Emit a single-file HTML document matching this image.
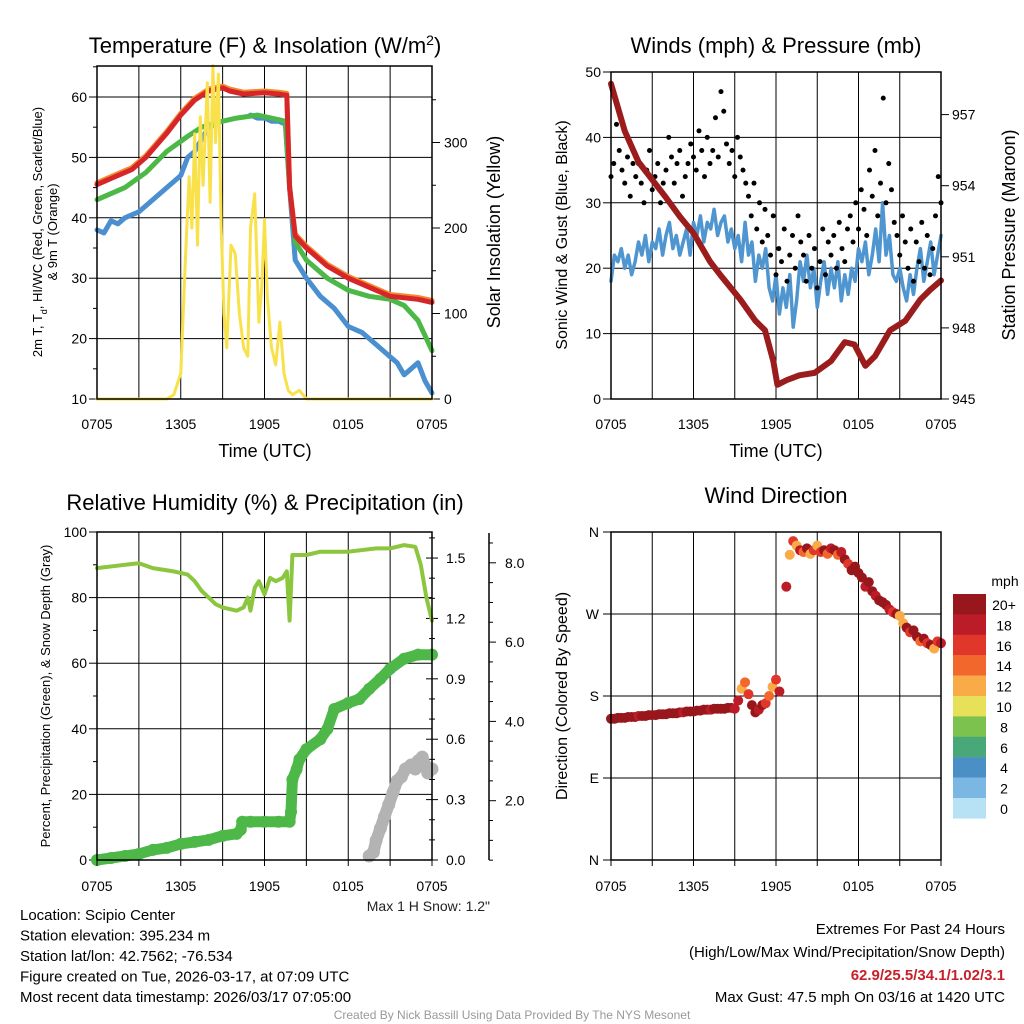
<!DOCTYPE html>
<html><head><meta charset="utf-8"><style>
html,body{margin:0;padding:0;background:#fff;}
svg{display:block;font-family:"Liberation Sans",Arial,sans-serif;}
</style></head><body>
<svg id="chart" width="1024" height="1024" viewBox="0 0 1024 1024" xmlns="http://www.w3.org/2000/svg"></svg>
<script>
// ---------- data ----------
const timeLabels = ['0705','1305','1905','0105','0705'];
// Temperature panel (hours since 0705 UTC)
const tempHours = [0,1,2.5,3.5,5,6,7,8,9,9.5,10.5,12,13,13.6,13.8,14.2,15,16.5,18,20,21,23,24];
const tempRed   = [45.5,46.5,48,50,54,57,59.5,61,61.5,61,60.5,60.7,60.5,60.3,45,37,35,32,30,28,27,26.5,26];
const greenHours = [0,2,3.5,5,6.5,7.5,9,10,11.5,13.5,13.8,14.2,15,16.5,18,19.5,21,22,23,24];
const tempGreen  = [43,45,47.5,51,53.5,55,56,56.5,57,56,45,36,33,30,28,27,26.5,25.5,23,18];
const blueHours1 = [0,0.5,1,1.5,2,2.5,3,3.5,4,5,6,6.5,7,7.5,8,8.5];
const tempBlue1  = [38,37.5,39.5,39,40,40.5,41,42,43,45,47,50,51,53,55,55.5];
const blueHours2 = [11,11.5,12,12.5,13,13.5,13.8,14.2,15,16,17,18,19,20,21,21.5,22,22.5,23,23.5,24];
const tempBlue2  = [57,56.5,56.5,56,56,55.5,45,33,30,27,25,22,21,19,17,16,14,15,16,13,11];
const solarHours = [0,5,5.5,6,6.3,6.6,6.8,7,7.2,7.4,7.6,7.9,8.1,8.3,8.5,8.7,8.9,9.1,9.3,9.6,9.9,10.2,10.5,10.8,11.0,11.3,11.6,11.8,12.0,12.2,12.5,12.8,13.1,13.4,13.7,14.0,14.5,15,24];
const solarVals  = [0,0,5,30,150,260,200,310,180,330,250,370,230,390,300,380,200,100,60,180,170,100,60,50,200,240,90,130,210,120,60,40,90,30,10,5,10,0,0];
// Winds panel
const presHours = [0,1,2,4,5,6,7.2,8,9.4,10.5,11.2,11.8,12.1,12.8,13.7,14.8,16,17,17.7,18.5,19.2,20.3,21.4,22.5,23.2,24];
const presVals  = [958.3,956.3,955.0,953.5,952.7,952.0,950.8,950.2,949.2,948.3,947.9,946.6,945.6,945.8,946.0,946.1,946.6,947.4,947.3,946.4,946.8,947.9,948.3,949.2,949.6,950.0];
const windVals = [18,22,21,23,20, 22,19,21,24, 22,25,21,24, 23,26,22,25, 27,23,25,22, 24,26,22,27, 25,28,24,27, 26,29,25,27, 28,24,26,23, 25,21,27,22, 24,18,22,20, 23,17,15,19, 13,17,14,19, 11,15,21,18, 22,17,20,14, 18,21,16,20, 17,21,15,19, 16,20,18,23, 21,24,19,22, 26,21,30,22, 25,19,18,20, 17,15,19,16, 20,23,18,21, 24,19,22,25];
const gustVals = [34,36,42,38,35,33,37,31,36,34, 36,33,30,35,38,32,34,36,30,33, 35,40,37,33,36,38,31,34,36,39, 37,35,41,38,34,40,36,38,43,37, 47,44,39,36,38,34,40,37,35,33, 31,28,33,26,30,24,29,25,22,28, 19,23,21,26,18,22,25,20,28,24, 22,18,25,20,23,17,21,26,19,24, 22,25,20,27,23,21,26,28,24,30, 26,32,29,25,35,31,38,28,33,46, 30,36,32,27,25,22,28,24,20,26, 18,24,21,27,20,25,19,23,28,34,30];
// Humidity panel
const rhHours = [0,2,3,4,5.5,6.5,7,7.5,8,8.5,9,10,10.5,10.8,11,11.3,11.6,12,12.4,12.8,13.3,13.6,13.8,14,15,16,18,20,21,22,22.8,23.2,23.6,24];
const rhVals  = [89,90,90.5,89,88,87,85,82,80,78,77,76,77,80,76,83,85,81,86,85,86,88,73,93,93,94,94,95,95,96,95.5,90,80,73];
const precipHours = [0,1,2,3,4,5,6,7,8,9,10,10.3,10.4,11,12,13,13.8,13.9,14,14.3,14.5,15,16,16.5,17,18,18.8,19.5,20.3,21,22,23,24];
const precipVals  = [0,0.01,0.02,0.03,0.05,0.06,0.08,0.09,0.1,0.12,0.13,0.15,0.19,0.19,0.19,0.19,0.19,0.24,0.4,0.45,0.5,0.55,0.6,0.65,0.75,0.78,0.8,0.85,0.9,0.95,1.0,1.02,1.02];
const snowHours = [19.5,19.8,20,20.3,20.6,20.9,21.2,21.5,21.8,22.1,22.5,22.8,23,23.3,23.5,23.7,24];
const snowVals  = [0.5,0.7,1.0,1.3,1.6,1.9,2.2,2.5,2.6,2.8,2.9,2.8,3.0,3.1,2.9,2.7,2.8];
// Wind direction panel (every 15 min)
const dirVals = [155,155,156,156,156, 157,157,157,158, 158,158,159,159, 159,160,160,160, 161,161,161,162, 162,163,163,163, 164,164,165,165, 165,166,166,166, 166,167,167,166, 175,188,195,182, 170,162,165,170, 172,180,190,198, 185,null,300,335, 350,345,340,338, 342,336,340,345, 338,340,336,342, 340,335,338,330, 325,318,322,315, 310,300,305,295, 290,285,283,280, 275,272,270,268, 260,255,250,252, 245,240,243,238, 236,232,240,238];
const spdVals = [22,22,21,22,20, 22,21,22,19, 22,21,22,20, 22,22,21,22, 20,22,21,22, 19,22,22,21, 22,20,22,21, 19,22,21,20, 22,21,20,19, 18,13,15,17, 21,20,18,21, 16,14,12,16, 18,null,18,12, 16,12,18,14, 20,13,17,12, 16,20,14,18, 21,15,19,20, 17,21,20,22, 21,18,20,22, 19,21,20,22, 18,16,20,12, 13,21,16,20, 21,14,22,16, 20,13,17,19];
const legendLabels = ['20+','18','16','14','12','10','8','6','4','2','0'];
const binColors = ['#b7e2f6','#7ab8e3','#4a8fc6','#48a878','#7bc24f','#e7e15a','#f9ab47','#f2672c','#e1362a','#bc1c27','#98171c'];

// ---------- helpers ----------
const NS='http://www.w3.org/2000/svg';
const svg=document.getElementById('chart');
function el(tag,attrs,name){
  const e=document.createElementNS(NS,tag);
  for(const k in attrs) e.setAttribute(k,attrs[k]);
  
  
  svg.appendChild(e);
  return e;
}
function txt(x,y,s,size,anchor,name,extra){
  const a=Object.assign({x:x,y:y,'font-size':size,'text-anchor':anchor||'middle',fill:'#000'},extra||{});
  const t=el('text',a,name); t.textContent=s; return t;
}
function poly(pts,color,w,name){
  return el('polyline',{points:pts.map(p=>p[0].toFixed(1)+','+p[1].toFixed(1)).join(' '),fill:'none',stroke:color,'stroke-width':w,'stroke-linejoin':'round','stroke-linecap':'round'},name);
}
function line(x1,y1,x2,y2,color,w,name){return el('line',{x1,y1,x2,y2,stroke:color,'stroke-width':w},name);}
function timeAxis(L,R,B,name,off,tick){
  const xs=h=>L+h*(R-L)/24;
  for(let i=0;i<5;i++){ txt(xs(i*6),B+off,timeLabels[i],14,'middle',name+'-tick-label'); }
  if(tick) for(let h=0;h<=24;h+=3) line(xs(h),B,xs(h),B+tick,'#000',1,name+'-tick');
}
function vgrid(L,R,T,B,name){ for(let h=3;h<24;h+=3){const x=L+h*(R-L)/24; line(x,T,x,B,'#000',1,name);} }
function frame(L,R,T,B,name){ el('rect',{x:L,y:T,width:R-L,height:B-T,fill:'none',stroke:'#000','stroke-width':1.5},name); }

// ---------- Panel 1: temperature ----------
{
const L=97,R=432,T=66,B=399;
const xs=h=>L+h*(R-L)/24, yt=v=>B-(v-10)*6.04, ys=v=>B-v*0.855;
vgrid(L,R,T,B,'temp-grid-vertical');
for(let v=10;v<=60;v+=10){ if(v>10) line(L,yt(v),R,yt(v),'#000',1,'temp-grid-horizontal'); line(L-8,yt(v),L,yt(v),'#000',1,'temp-y-tick'); txt(L-10,yt(v)+5,String(v),14,'end','temp-y-tick-label'); }
for(let v=15;v<=65;v+=10) line(L-4,yt(v),L,yt(v),'#000',1,'temp-y-minor-tick');
for(let v=0;v<=300;v+=100){ line(R,ys(v),R+8,ys(v),'#000',1,'solar-y-tick'); txt(R+12,ys(v)+5,String(v),14,'start','solar-y-tick-label'); }
for(let v=50;v<=350;v+=100) line(R,ys(v),R+4,ys(v),'#000',1,'solar-y-minor-tick');
poly(blueHours1.map((h,i)=>[xs(h),yt(tempBlue1[i])]),'#4a8fcf',5,'dewpoint-line');
poly(blueHours2.map((h,i)=>[xs(h),yt(tempBlue2[i])]),'#4a8fcf',5,'dewpoint-line-2');
poly(greenHours.map((h,i)=>[xs(h),yt(tempGreen[i])]),'#4cb848',5,'heat-index-line');
poly(tempHours.map((h,i)=>[xs(h),yt(tempRed[i]+0.3)]),'#f58a2a',5,'9m-temperature-line');
poly(tempHours.map((h,i)=>[xs(h),yt(tempRed[i])]),'#d7262a',5,'temperature-line');
poly(solarHours.map((h,i)=>[xs(h),ys(solarVals[i])]),'#f9e14b',3,'solar-line');
frame(L,R,T,B,'temp-plot-frame');
timeAxis(L,R,B,'temp-x',30,0);
const t=txt(265,53,'Temperature (F) & Insolation (W/m',22,'middle','temp-title');
const sp=document.createElementNS(NS,'tspan'); sp.setAttribute('baseline-shift','super'); sp.setAttribute('font-size','14'); sp.textContent='2'; t.appendChild(sp);
const sp2=document.createElementNS(NS,'tspan'); sp2.textContent=')'; t.appendChild(sp2);
txt(265,457,'Time (UTC)',18,'middle','temp-x-title');
const yl=txt(0,0,'2m T, T',13,'middle','temp-y-title',{transform:'translate(42,232) rotate(-90)'});
const sd=document.createElementNS(NS,'tspan'); sd.setAttribute('baseline-shift','sub'); sd.setAttribute('font-size','9'); sd.textContent='d'; yl.appendChild(sd);
const sr=document.createElementNS(NS,'tspan'); sr.textContent=', HI/WC (Red, Green, Scarlet/Blue)'; yl.appendChild(sr);
txt(0,0,'& 9m T (Orange)',13,'middle','temp-y-title-2',{transform:'translate(57,232) rotate(-90)'});
txt(0,0,'Solar Insolation (Yellow)',18,'middle','solar-y-title',{transform:'translate(500,232) rotate(-90)'});
}

// ---------- Panel 2: winds ----------
{
const L=611,R=941,T=72,B=399;
const xs=h=>L+h*(R-L)/24, yw=v=>B-v*6.54, yp=v=>B-(v-945)*23.7;
vgrid(L,R,T,B,'wind-grid-vertical');
for(let v=0;v<=50;v+=10){ if(v>0&&v<50) line(L,yw(v),R,yw(v),'#000',1,'wind-grid-horizontal'); line(L-8,yw(v),L,yw(v),'#000',1,'wind-y-tick'); txt(L-10,yw(v)+5,String(v),14,'end','wind-y-tick-label'); }
for(let v=945;v<=957;v+=3){ line(R,yp(v),R+8,yp(v),'#000',1,'pressure-y-tick'); txt(R+11,yp(v)+5,String(v),14,'start','pressure-y-tick-label'); }
poly(windVals.map((v,i)=>[xs(i/4),yw(v)]),'#4f95d0',3.5,'sonic-wind-line');
gustVals.forEach((v,i)=>{ el('circle',{cx:xs(i*0.2),cy:yw(v),r:2.5,fill:'#000'},'gust-point'); });
poly(presHours.map((h,i)=>[xs(h),yp(presVals[i])]),'#9b1c1c',6,'pressure-line');
frame(L,R,T,B,'wind-plot-frame');
timeAxis(L,R,B,'wind-x',30,0);
txt(776,53,'Winds (mph) & Pressure (mb)',22,'middle','wind-title');
txt(776,457,'Time (UTC)',18,'middle','wind-x-title');
txt(0,0,'Sonic Wind & Gust (Blue, Black)',16,'middle','wind-y-title',{transform:'translate(567,235) rotate(-90)'});
txt(0,0,'Station Pressure (Maroon)',18,'middle','pressure-y-title',{transform:'translate(1015,235) rotate(-90)'});
}

// ---------- Panel 3: humidity ----------
{
const L=97,R=432,T=532,B=860;
const xs=h=>L+h*(R-L)/24, yr=v=>B-v*3.28, yq=v=>B-v*201.3, yn=v=>Math.min(B-4,880-v*39.65);
vgrid(L,R,T,B,'rh-grid-vertical');
for(let v=0;v<=100;v+=20){ if(v>0&&v<100) line(L,yr(v),R,yr(v),'#000',1,'rh-grid-horizontal'); line(L-8,yr(v),L,yr(v),'#000',1,'rh-y-tick'); txt(L-10,yr(v)+5,String(v),14,'end','rh-y-tick-label'); }
for(let v=10;v<=90;v+=20) line(L-4,yr(v),L,yr(v),'#000',1,'rh-y-minor-tick');
for(let i=0;i<=16;i++){ const v=i/10; line(R-(i%3==0?6:3),yq(v),R+(i%3==0?6:3),yq(v),'#000',1,'precip-y-tick'); }
for(let i=0;i<=5;i++){ const v=i*0.3; txt(R+14,yq(v)+5,v.toFixed(1),14,'start','precip-y-tick-label'); }
line(489,533,489,860,'#000',1.5,'snow-axis-line');
for(let v=0.5;v<=8.5;v+=0.5){ line(489,880-v*39.65,489+(v%2==0?7:4),880-v*39.65,'#000',1,'snow-y-tick'); }
for(let v=2;v<=8;v+=2) txt(505,880-v*39.65+5,v.toFixed(1),14,'start','snow-y-tick-label');
poly(rhHours.map((h,i)=>[xs(h),yr(rhVals[i])]),'#8cc63f',4,'humidity-line');
precipHours.forEach((h,i)=>{ el('circle',{cx:xs(h),cy:yq(precipVals[i]),r:6,fill:'#4db848'},'precip-point'); });
poly(precipHours.map((h,i)=>[xs(h),yq(precipVals[i])]),'#4db848',11,'precip-line');
snowHours.forEach((h,i)=>{ el('circle',{cx:xs(h),cy:yn(snowVals[i]),r:6.5,fill:'#b3b3b3'},'snow-point'); });
poly(snowHours.map((h,i)=>[xs(h),yn(snowVals[i])]),'#b3b3b3',12,'snow-line');
frame(L,R,T,B,'rh-plot-frame');
timeAxis(L,R,B,'rh-x',31,6);
txt(265,510,'Relative Humidity (%) & Precipitation (in)',22,'middle','rh-title');
txt(0,0,'Percent, Precipitation (Green), & Snow Depth (Gray)',13,'middle','rh-y-title',{transform:'translate(50,696) rotate(-90)'});
txt(490,911,'Max 1 H Snow: 1.2"',14,'end','max-snow-note',{fill:'#222'});
}

// ---------- Panel 4: wind direction ----------
{
const L=611,R=941,T=532,B=860;
const xs=h=>L+h*(R-L)/24, yd=v=>B-v*(B-T)/360;
vgrid(L,R,T,B,'dir-grid-vertical');
const dl=['N','E','S','W','N'];
for(let i=0;i<=4;i++){ const v=i*90; if(i>0&&i<4) line(L,yd(v),R,yd(v),'#000',1,'dir-grid-horizontal'); line(L-8,yd(v),L,yd(v),'#000',1,'dir-y-tick'); txt(L-12,yd(v)+5,dl[i],14,'end','dir-y-tick-label'); }
dirVals.forEach((v,i)=>{ if(v===null) return; const s=spdVals[i]; const b=Math.max(0,Math.min(10,Math.floor(s/2)));
  el('circle',{cx:xs(i/4),cy:yd(v),r:5,fill:binColors[b]},'direction-point'); });
frame(L,R,T,B,'dir-plot-frame');
timeAxis(L,R,B,'dir-x',31,6);
txt(776,503,'Wind Direction',22,'middle','dir-title');
txt(0,0,'Direction (Colored By Speed)',16,'middle','dir-y-title',{transform:'translate(567,696) rotate(-90)'});
txt(1005,586,'mph',14,'middle','legend-title');
legendLabels.forEach((s,i)=>{ el('rect',{x:953,y:594+i*20.4,width:33,height:20.6,fill:binColors[10-i]},'legend-swatch'); txt(1004,610+i*20.4,s,14,'middle','legend-label'); });
}

// ---------- footer text ----------
const info=['Location: Scipio Center','Station elevation: 395.234 m','Station lat/lon: 42.7562; -76.534','Figure created on Tue, 2026-03-17, at 07:09 UTC','Most recent data timestamp: 2026/03/17 07:05:00'];
info.forEach((s,i)=>txt(20,920+i*20.5,s,15,'start','station-info-line'));
txt(1005,934,'Extremes For Past 24 Hours',15,'end','extremes-title');
txt(1005,957,'(High/Low/Max Wind/Precipitation/Snow Depth)',15,'end','extremes-subtitle');
txt(1005,980,'62.9/25.5/34.1/1.02/3.1',15,'end','extremes-values',{fill:'#c8202a','font-weight':'bold'});
txt(1005,1002,'Max Gust: 47.5 mph On 03/16 at 1420 UTC',15,'end','max-gust-note');
txt(512,1019,'Created By Nick Bassill Using Data Provided By The NYS Mesonet',12,'middle','credit-line',{fill:'#999'});
</script>
</body></html>
